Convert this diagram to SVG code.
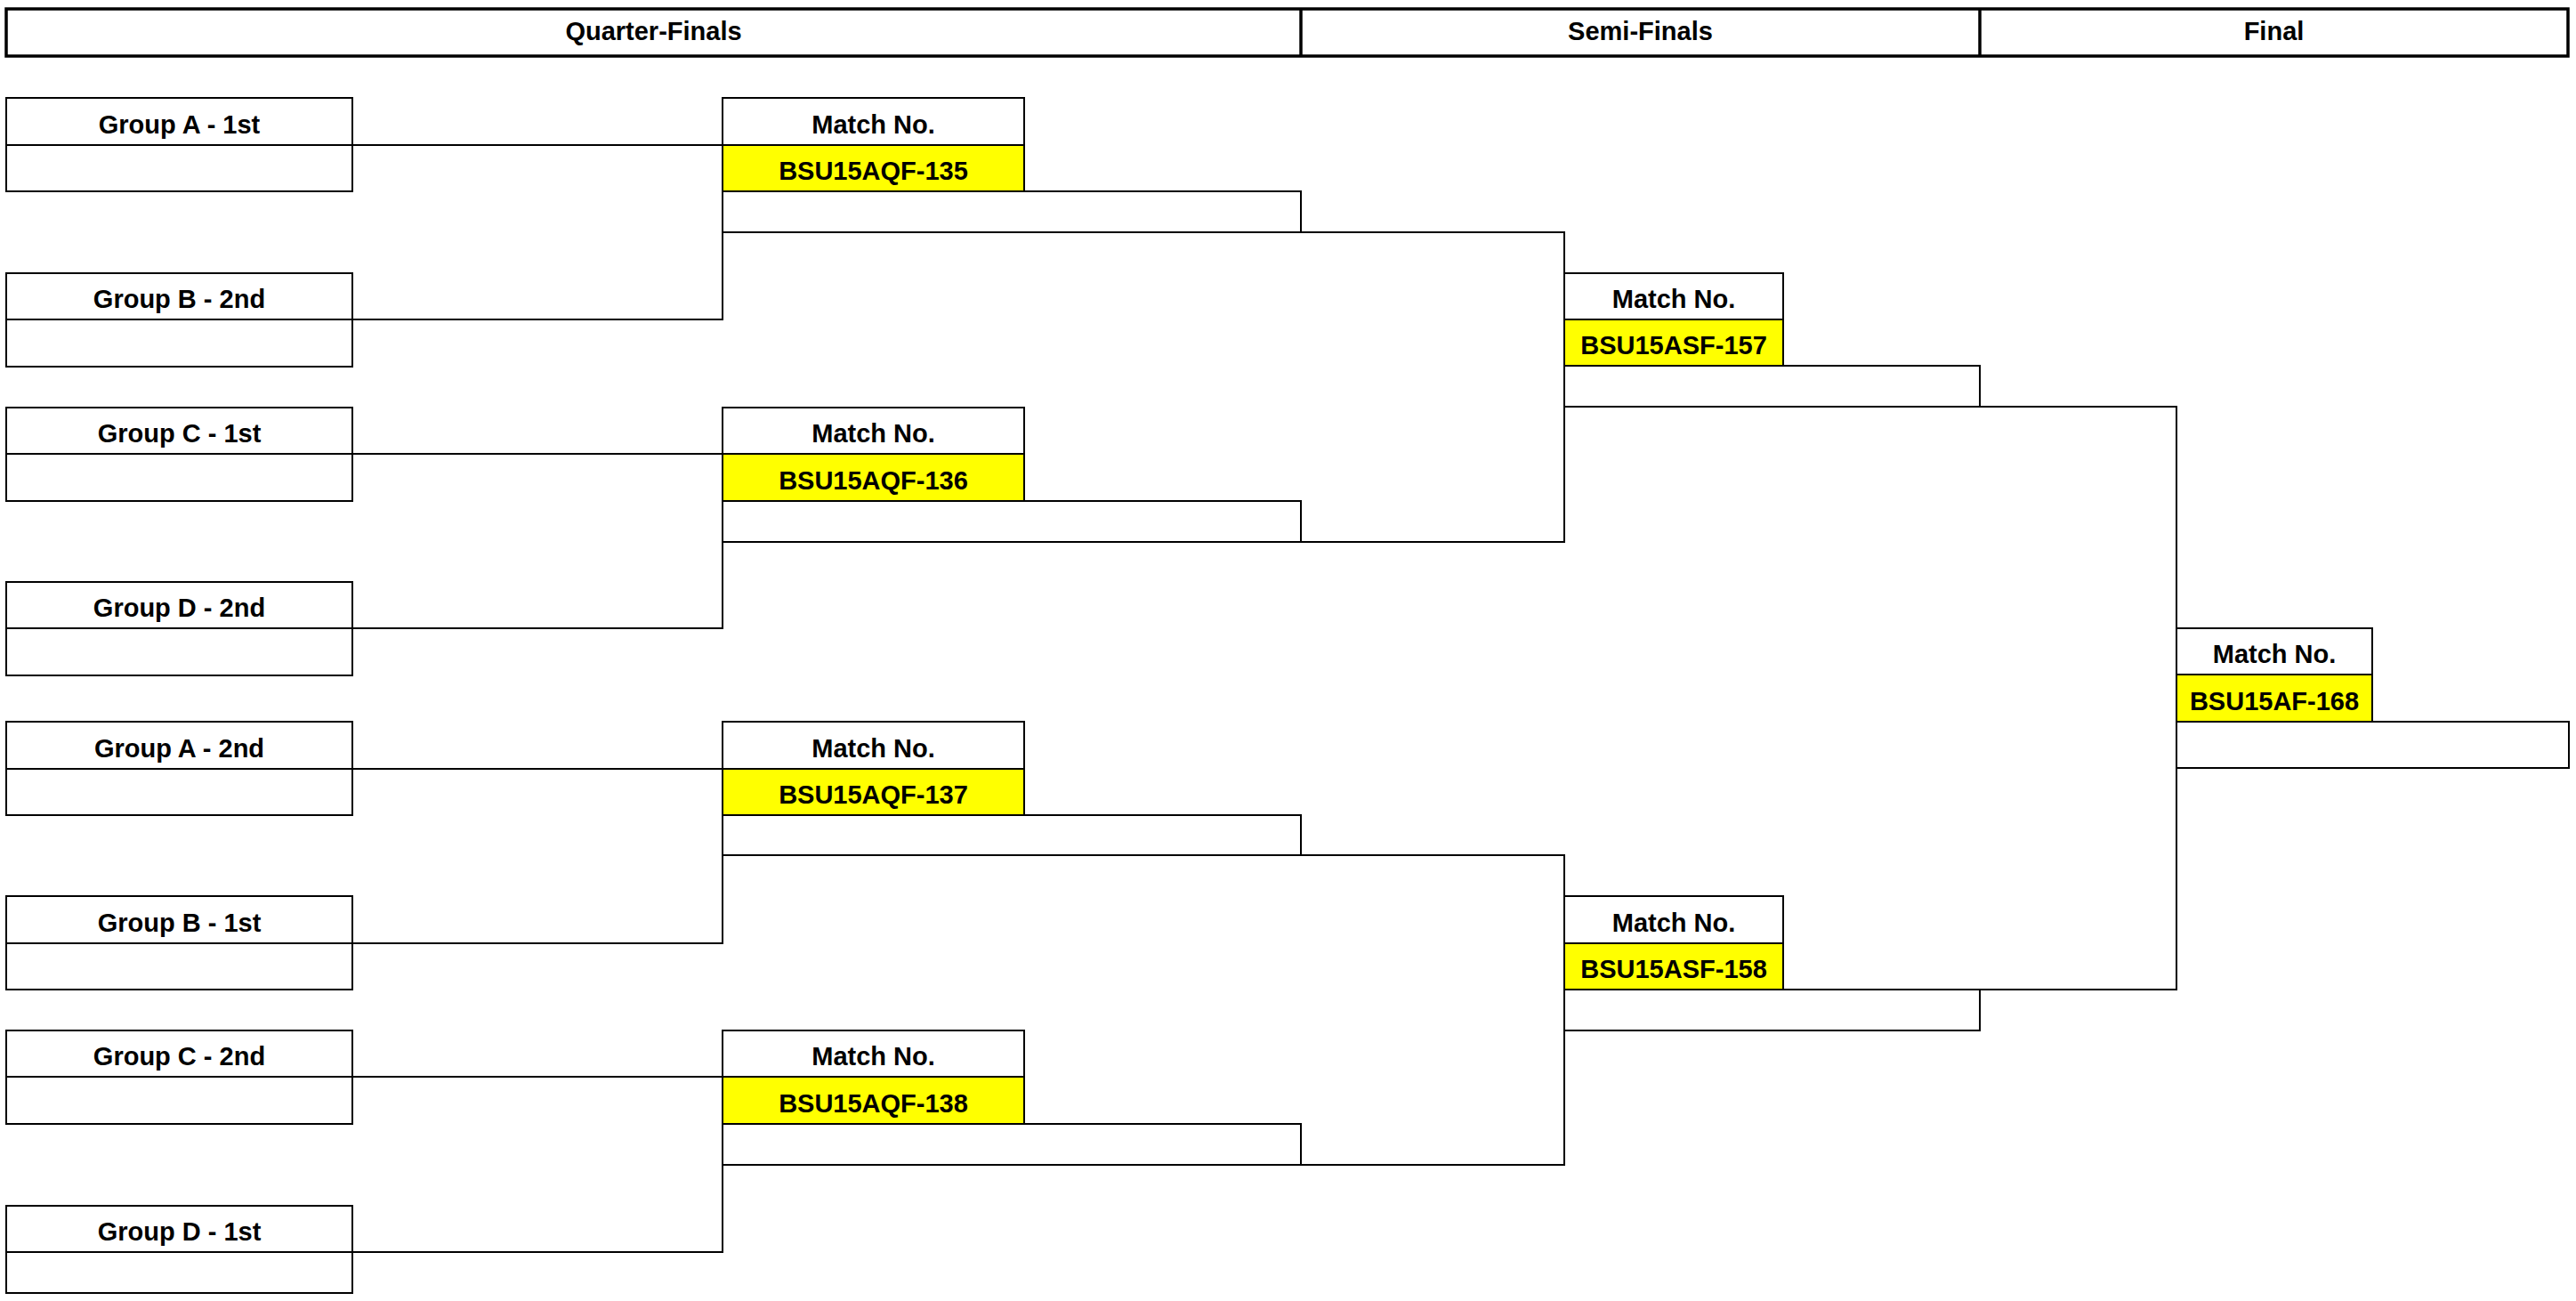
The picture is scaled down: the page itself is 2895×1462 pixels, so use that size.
<svg xmlns="http://www.w3.org/2000/svg" width="2895" height="1462" viewBox="0 0 2895 1462">
<style>
.cell{fill:#ffffff;stroke:#000000;stroke-width:2}
.code{fill:#ffff00;stroke:#000000;stroke-width:2}
.hdr{fill:#ffffff;stroke:#000000;stroke-width:3.5}
.hdiv{stroke:#000000;stroke-width:3.5}
.ln{stroke:#000000;stroke-width:2;fill:none}
text{font-family:"Liberation Sans",Arial,sans-serif;font-weight:bold;font-size:29px;fill:#000000;text-anchor:middle}
</style>
<rect width="2895" height="1462" fill="#ffffff"/>
<g id="header">
<rect class="hdr" x="7" y="10" width="2879" height="53"/>
<line class="hdiv" x1="1462" y1="10" x2="1462" y2="63"/>
<line class="hdiv" x1="2225" y1="10" x2="2225" y2="63"/>
<text x="734.5" y="45">Quarter-Finals</text>
<text x="1843.5" y="45">Semi-Finals</text>
<text x="2555.5" y="45">Final</text>
</g>
<g id="connectors">
<path class="ln" d="M396 163H812 M396 359H812V261 M396 510H812 M396 706H812V609 M396 864H812 M396 1060H812V961 M396 1210H812 M396 1407H812V1309"/>
<path class="ln" d="M1462 261H1758V609H1462 M1462 961H1758V1309H1462"/>
<path class="ln" d="M2225 457H2446V1112H2004"/>
</g>
<g id="grpA1"><rect class="cell" x="7" y="110" width="389" height="105"/><line class="ln" x1="7" y1="163" x2="396" y2="163"/><text x="201.5" y="150">Group A - 1st</text></g>
<g id="grpB2"><rect class="cell" x="7" y="307" width="389" height="105"/><line class="ln" x1="7" y1="359" x2="396" y2="359"/><text x="201.5" y="346">Group B - 2nd</text></g>
<g id="grpC1"><rect class="cell" x="7" y="458" width="389" height="105"/><line class="ln" x1="7" y1="510" x2="396" y2="510"/><text x="201.5" y="497">Group C - 1st</text></g>
<g id="grpD2"><rect class="cell" x="7" y="654" width="389" height="105"/><line class="ln" x1="7" y1="706" x2="396" y2="706"/><text x="201.5" y="693">Group D - 2nd</text></g>
<g id="grpA2"><rect class="cell" x="7" y="811" width="389" height="105"/><line class="ln" x1="7" y1="864" x2="396" y2="864"/><text x="201.5" y="851">Group A - 2nd</text></g>
<g id="grpB1"><rect class="cell" x="7" y="1007" width="389" height="105"/><line class="ln" x1="7" y1="1060" x2="396" y2="1060"/><text x="201.5" y="1047">Group B - 1st</text></g>
<g id="grpC2"><rect class="cell" x="7" y="1158" width="389" height="105"/><line class="ln" x1="7" y1="1210" x2="396" y2="1210"/><text x="201.5" y="1197">Group C - 2nd</text></g>
<g id="grpD1"><rect class="cell" x="7" y="1355" width="389" height="98"/><line class="ln" x1="7" y1="1407" x2="396" y2="1407"/><text x="201.5" y="1394">Group D - 1st</text></g>
<g id="qf135"><rect class="cell" x="812" y="215" width="650" height="46"/><rect class="cell" x="812" y="110" width="339" height="53"/><rect class="code" x="812" y="163" width="339" height="52"/><text x="981.5" y="150">Match No.</text><text x="981.5" y="202">BSU15AQF-135</text></g>
<g id="qf136"><rect class="cell" x="812" y="563" width="650" height="46"/><rect class="cell" x="812" y="458" width="339" height="52"/><rect class="code" x="812" y="510" width="339" height="53"/><text x="981.5" y="497">Match No.</text><text x="981.5" y="550">BSU15AQF-136</text></g>
<g id="qf137"><rect class="cell" x="812" y="916" width="650" height="45"/><rect class="cell" x="812" y="811" width="339" height="53"/><rect class="code" x="812" y="864" width="339" height="52"/><text x="981.5" y="851">Match No.</text><text x="981.5" y="903">BSU15AQF-137</text></g>
<g id="qf138"><rect class="cell" x="812" y="1263" width="650" height="46"/><rect class="cell" x="812" y="1158" width="339" height="52"/><rect class="code" x="812" y="1210" width="339" height="53"/><text x="981.5" y="1197">Match No.</text><text x="981.5" y="1250">BSU15AQF-138</text></g>
<g id="sf157"><rect class="cell" x="1758" y="411" width="467" height="46"/><rect class="cell" x="1758" y="307" width="246" height="52"/><rect class="code" x="1758" y="359" width="246" height="52"/><text x="1881" y="346">Match No.</text><text x="1881" y="398">BSU15ASF-157</text></g>
<g id="sf158"><rect class="cell" x="1758" y="1112" width="467" height="46"/><rect class="cell" x="1758" y="1007" width="246" height="53"/><rect class="code" x="1758" y="1060" width="246" height="52"/><text x="1881" y="1047">Match No.</text><text x="1881" y="1099">BSU15ASF-158</text></g>
<g id="final168"><rect class="cell" x="2446" y="811" width="441" height="52"/><rect class="cell" x="2446" y="706" width="220" height="52"/><rect class="code" x="2446" y="758" width="220" height="53"/><text x="2556" y="745">Match No.</text><text x="2556" y="798">BSU15AF-168</text></g>
</svg>
